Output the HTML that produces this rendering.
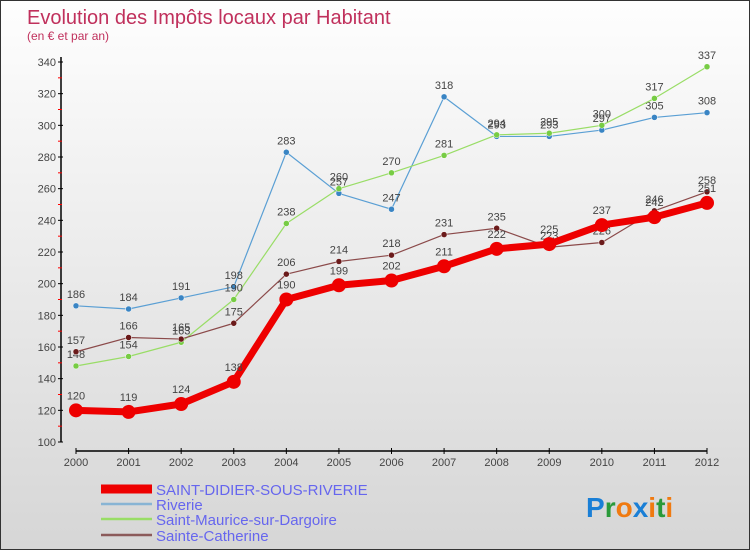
<!DOCTYPE html>
<html><head><meta charset="utf-8"><style>
body{margin:0;width:750px;height:550px;overflow:hidden;font-family:"Liberation Sans",sans-serif}
#wrap{position:relative;width:748px;height:548px;border:1px solid #333;background:linear-gradient(#fefefe,#d6d6d6)}
svg{position:absolute;left:0;top:0}
</style></head><body>
<div id="wrap">
<svg id="chart" width="750" height="550">
<text x="26" y="23" font-size="20" fill="#c0305c">Evolution des Impôts locaux par Habitant</text>
<text x="26" y="39" font-size="12" fill="#c0305c">(en € et par an)</text>
<g id="axes"></g><g id="series"></g><g id="legend"></g>
<text x="585" y="516" font-size="28" font-weight="bold"><tspan fill="#1a7fd6">P</tspan><tspan fill="#2a9a3a">r</tspan><tspan fill="#f07a10">o</tspan><tspan fill="#1a7fd6">x</tspan><tspan fill="#f07a10">i</tspan><tspan fill="#2a9a3a">t</tspan><tspan fill="#f07a10">i</tspan></text>
</svg></div>
<script>
const years=[2000,2001,2002,2003,2004,2005,2006,2007,2008,2009,2010,2011,2012];
const yTicks=[100,120,140,160,180,200,220,240,260,280,300,320,340];
const stDidier=[120,119,124,138,190,199,202,211,222,225,237,242,251];
const riverie=[186,184,191,198,283,257,247,318,293,293,297,305,308];
const stMaurice=[148,154,163,190,238,260,270,281,294,295,300,317,337];
const stCatherine=[157,166,165,175,206,214,218,231,235,223,226,246,258];
const seriesNames=["SAINT-DIDIER-SOUS-RIVERIE","Riverie","Saint-Maurice-sur-Dargoire","Sainte-Catherine"];
const NS="http://www.w3.org/2000/svg";
const X=i=>75+i*(706-75)/(years.length-1);
const Y=v=>441-(v-100)*380/240;
function mk(t,a,p){const e=document.createElementNS(NS,t);for(const k in a)e.setAttribute(k,a[k]);p.appendChild(e);return e;}
const ax=document.getElementById('axes');
const yl=mk('line',{x1:60,y1:Y(340)-5,x2:60,y2:441,stroke:'#000','stroke-width':1.5},ax);


yTicks.forEach(v=>{
 mk('line',{x1:57,x2:62,y1:Y(v),y2:Y(v),stroke:'#000'},ax);
 if(v<340)mk('line',{x1:57,x2:61,y1:Y(v+10),y2:Y(v+10),stroke:'#f00'},ax);
 const t=mk('text',{x:55,y:Y(v)+4,'font-size':11,fill:'#444','text-anchor':'end'},ax);t.textContent=v;
 
 
});
const xl=mk('line',{x1:75,x2:706,y1:450,y2:450,stroke:'#000','stroke-width':1.5},ax);


years.forEach((y,i)=>{
 mk('line',{x1:X(i),x2:X(i),y1:447,y2:453,stroke:'#000'},ax);
 const t=mk('text',{x:X(i),y:465,'font-size':11,fill:'#444','text-anchor':'middle'},ax);t.textContent=y;
 
 
});
const sg=document.getElementById('series');
const defs=[[riverie,'#5a9fd4','#3a85c4',1.2,3,'riverie'],[stMaurice,'#99dd66','#77cc44',1.2,3,'saint-maurice'],[stCatherine,'#8b4a4a','#6b1a1a',1.2,3,'sainte-catherine'],[stDidier,'#ee0000','#ee0000',7,7,'saint-didier']];
defs.forEach(([d,c,fc,w,r,n])=>{
 const g=mk('g',{},sg);
 
 
 const pl=mk('polyline',{points:d.map((v,i)=>X(i)+','+Y(v)).join(' '),fill:'none',stroke:c,'stroke-width':w,'stroke-linejoin':'round'},g);
 
 
 d.forEach((v,i)=>{
  const p=mk('circle',{cx:X(i),cy:Y(v),r:r,fill:fc,stroke:r>4?'none':'#fff','stroke-width':0.5},g);
  
  
  const t=mk('text',{x:X(i),y:Y(v)-(r>4?11:8),'font-size':11,fill:'#444','text-anchor':'middle'},g);t.textContent=v;
  
  
 });
});
const lg=document.getElementById('legend');
const lc=['#ee0000','#88b4d4','#99dd66','#8b5a5a'];const lw=[9,2.5,2.5,2.5];const ly=[493,508,523,539];
seriesNames.forEach((n,i)=>{
 const g=mk('g',{},lg);
 
 
 mk('line',{x1:100,x2:151,y1:ly[i]-5,y2:ly[i]-5,stroke:lc[i],'stroke-width':lw[i]},g);
 const t=mk('text',{x:155,y:ly[i]+1,'font-size':15,fill:'#6666ee'},g);t.textContent=n;
});
</script>
</body></html>
